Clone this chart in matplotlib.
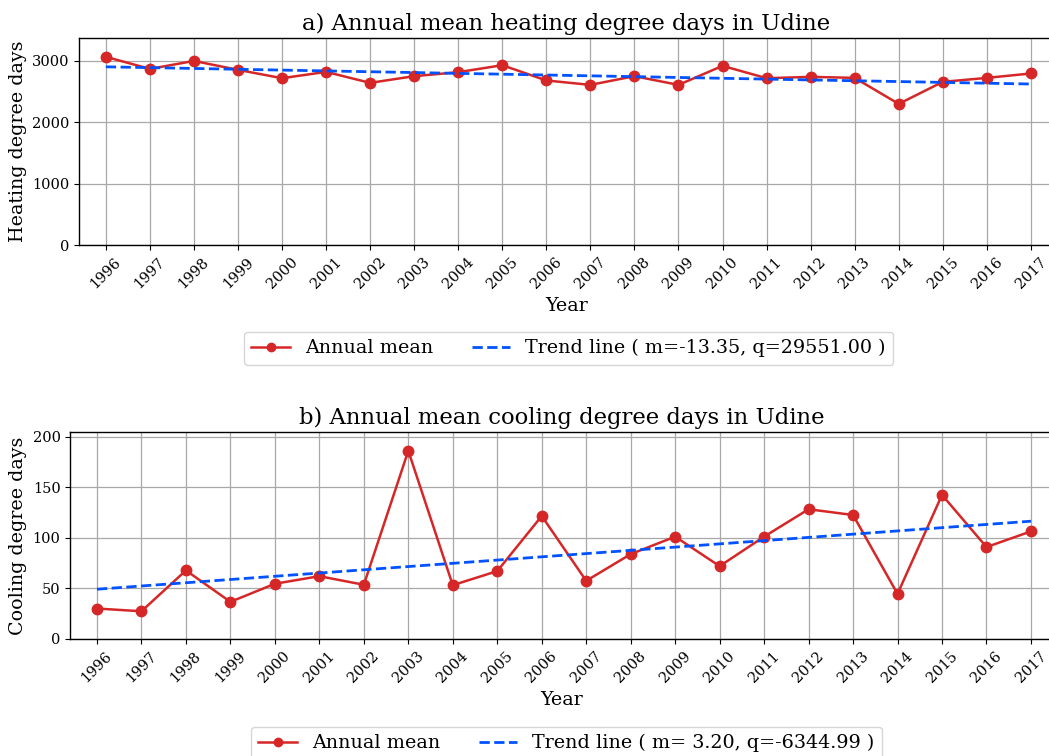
import numpy as np
import matplotlib
matplotlib.use("Agg")
import matplotlib.pyplot as plt

years = list(range(1996, 2018))
heating = [3067, 2871, 3000, 2855, 2719, 2822, 2643, 2752, 2817, 2931, 2682,
           2610, 2752, 2610, 2920, 2719, 2741, 2724, 2300, 2659, 2724, 2796]
cooling = [30.1, 27.4, 67.8, 36.7, 54.6, 62.1, 53.6, 186.1, 53.2, 67.1, 121.6,
           57.5, 83.9, 101.2, 72.0, 101.2, 128.3, 122.6, 44.6, 142.5, 90.9, 106.4]
heat_m, heat_q = -13.35, 29551.00
cool_m, cool_q = 3.2035, -6344.99
heat_yticks = [0, 1000, 2000, 3000]
cool_yticks = [0, 50, 100, 150, 200]

titles = ["a) Annual mean heating degree days in Udine",
          "b) Annual mean cooling degree days in Udine"]
ylabels = ["Heating degree days", "Cooling degree days"]

plt.rcParams['font.family'] = ['DejaVu Serif']
W, H = 1049, 756
fig = plt.figure(figsize=(W / 100, H / 100), dpi=100)

red = '#d62728'
blue = '#0052ff'

panels = [
    (heating, heat_m, heat_q, heat_yticks, [0.0757, 0.6759, 0.928, 0.2738], (0.542, 1 - 322 / H)),
    (cooling, cool_m, cool_q, cool_yticks, [0.0670, 0.1548, 0.937, 0.2738], (0.540, 1 - 717 / H)),
]

x = np.array(years)
for i, (vals, m, q, yt, pos, legpos) in enumerate(panels):
    ax = fig.add_axes(pos)
    ax.plot(x, vals, color=red, marker='o', markersize=7.5, linewidth=1.8,
            label='Annual mean', zorder=3)
    ax.plot(x, m * x + q, color=blue, linestyle='--', linewidth=2.0,
            label=f'Trend line ( m={m:5.2f}, q={q:.2f} )', zorder=3)
    ax.set_xlim(1995.4, 2017.5)
    ax.set_ylim(0, max(vals) * 1.1)
    ax.set_yticks(yt)
    ax.set_xticks(years)
    ax.set_xticklabels([str(y) for y in years], rotation=45, fontsize=10.5)
    ax.tick_params(axis='y', labelsize=10.5)
    ax.grid(True, color='#a8a8a8', linewidth=0.9)
    ax.set_axisbelow(True)
    for s in ax.spines.values():
        s.set_color('black')
        s.set_linewidth(1.0)
    ax.set_title(titles[i], fontsize=16.4, pad=6)
    ax.set_xlabel('Year', fontsize=13.7)
    ax.set_ylabel(ylabels[i], fontsize=13.7)
    fig.legend(handles=ax.get_lines(), loc='upper center', bbox_to_anchor=legpos,
               ncol=2, fontsize=13.8, frameon=True, edgecolor='#cccccc',
               handlelength=2.0, columnspacing=2.0, markerscale=0.8)

fig.savefig('out.png', dpi=100)
